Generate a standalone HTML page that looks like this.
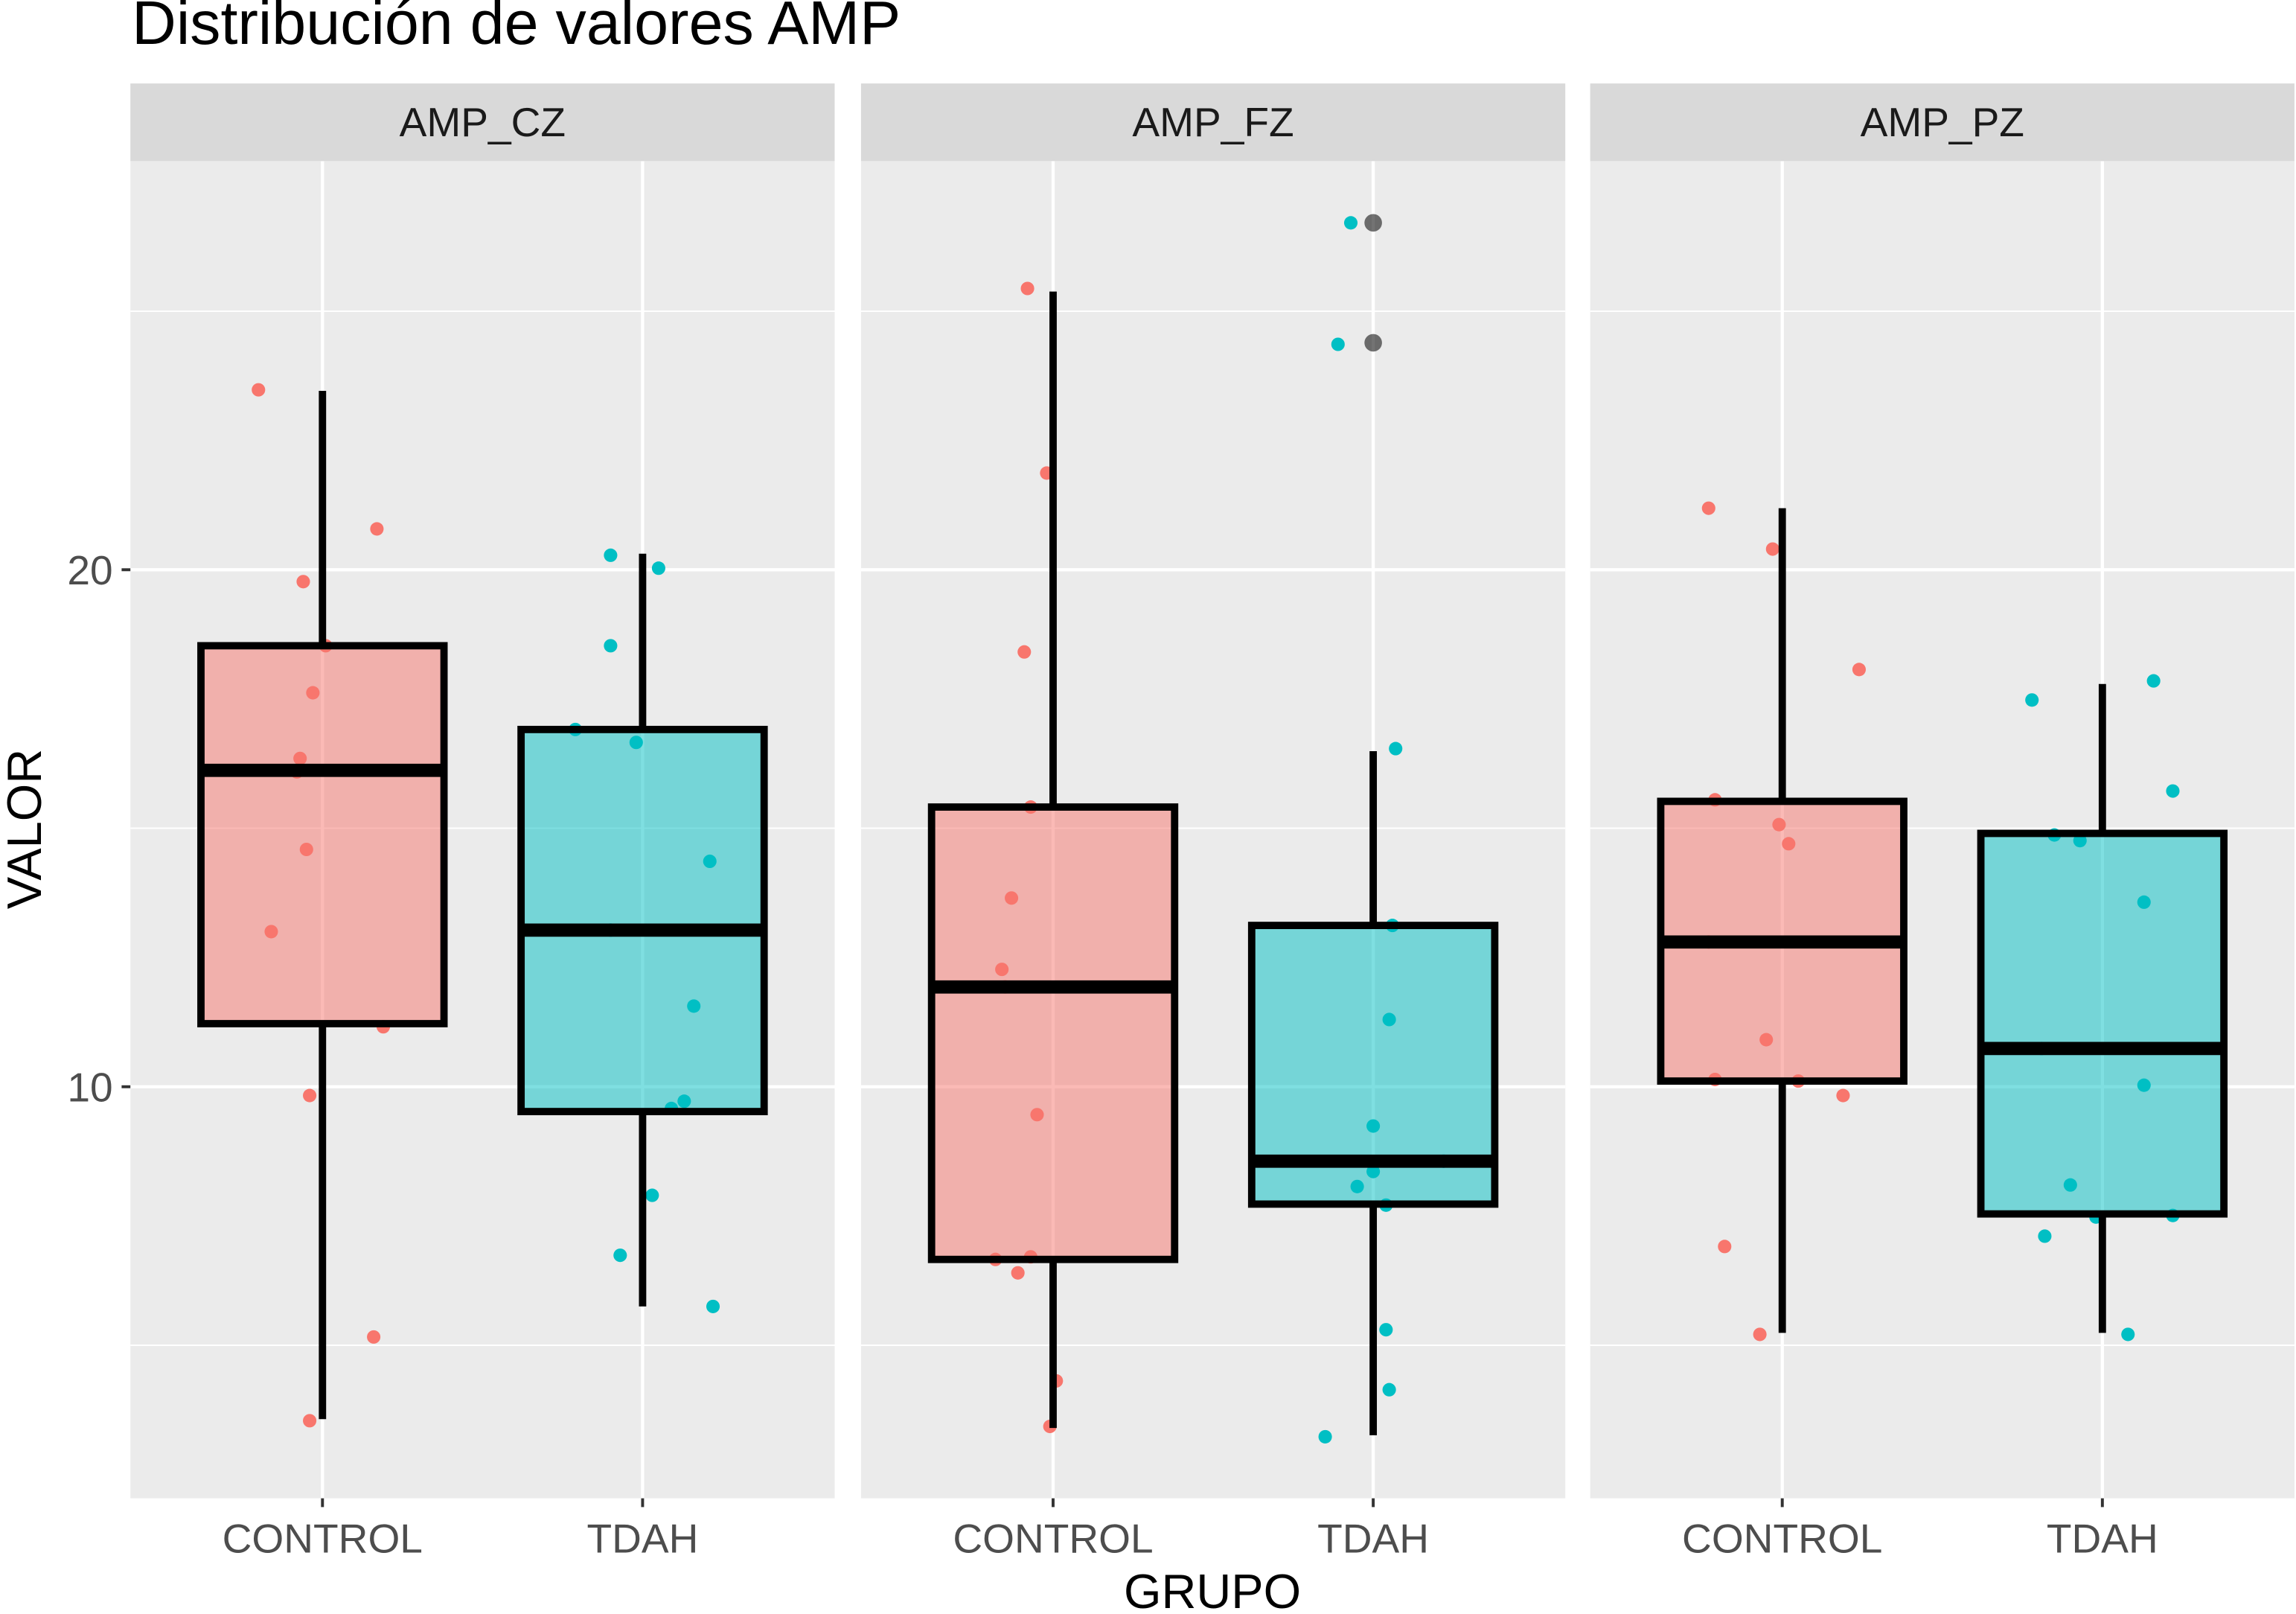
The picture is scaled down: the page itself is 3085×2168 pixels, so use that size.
<!DOCTYPE html>
<html><head><meta charset="utf-8"><style>
html,body{margin:0;padding:0;background:#fff;}
svg{display:block;font-family:"Liberation Sans",sans-serif;}
</style></head><body>
<svg id="chart" width="3085" height="2168" viewBox="0 0 1568 1102" xmlns="http://www.w3.org/2000/svg">
<rect width="1568" height="1102" fill="#fff"/>
<text x="90" y="30" font-size="42" fill="#000">Distribución de valores AMP</text>
<text x="828" y="1098" font-size="33" text-anchor="middle" fill="#000">GRUPO</text>
<text x="0" y="0" font-size="33" text-anchor="middle" fill="#000" transform="translate(28,566) rotate(-90)">VALOR</text>
<g id="plots"></g>
</svg>
<script>
const panels = ["AMP_CZ","AMP_FZ","AMP_PZ"];
const groups = ["CONTROL","TDAH"];
const yTicks = [10,20];
const yMinor = [5,15,25];
// box stats per panel per group: [lower whisker, q1, median, q3, upper whisker]
const boxCZ = [[3.57,11.22,16.12,18.53,23.46],[5.75,9.52,13.03,16.91,20.31]];
const boxFZ = [[3.40,6.66,11.93,15.41,25.38],[3.26,7.73,8.56,13.12,16.49]];
const boxPZ = [[5.24,10.11,12.80,15.52,21.19],[5.24,7.54,10.74,14.90,17.79]];
const outCZ = [[],[]];
const outFZ = [[],[26.71,24.39]];
const outPZ = [[],[]];
const valsCZ = [[23.48,20.79,19.77,18.53,17.62,16.35,16.09,14.59,13.00,11.16,9.83,5.16,3.54],[20.28,20.03,18.53,16.91,16.66,14.36,13.03,11.56,9.72,9.58,7.90,6.74,5.75]];
const jitCZ = [[-0.20,0.17,-0.06,0.01,-0.03,-0.07,-0.08,-0.05,-0.16,0.19,-0.04,0.16,-0.04],[-0.10,0.05,-0.10,-0.21,-0.02,0.21,-0.10,0.16,0.13,0.09,0.03,-0.07,0.22]];
const valsFZ = [[25.44,21.87,18.41,15.41,13.65,12.27,11.93,9.46,6.66,6.71,6.40,4.31,3.43],[26.71,24.36,16.54,13.12,11.30,9.24,8.36,8.56,8.07,7.71,5.30,4.14,3.23]];
const jitFZ = [[-0.08,-0.02,-0.09,-0.07,-0.13,-0.16,-0.15,-0.05,-0.18,-0.07,-0.11,0.01,-0.01],[-0.07,-0.11,0.07,0.06,0.05,0,0,0.22,-0.05,0.04,0.04,0.05,-0.15]];
const valsPZ = [[21.19,20.40,18.07,15.55,15.07,14.70,12.80,10.91,10.14,10.11,9.83,6.91,5.21],[17.85,17.48,15.72,14.87,14.76,13.57,10.74,10.03,8.10,7.48,7.51,7.11,5.21]];
const jitPZ = [[-0.23,-0.03,0.24,-0.21,-0.01,0.02,-0.23,-0.05,-0.21,0.05,0.19,-0.18,-0.07],[0.16,-0.22,0.22,-0.15,-0.07,0.13,-0.19,0.13,-0.10,-0.02,0.22,-0.18,0.08]];

const boxes=[boxCZ,boxFZ,boxPZ], outs=[outCZ,outFZ,outPZ], vals=[valsCZ,valsFZ,valsPZ], jits=[jitCZ,jitFZ,jitPZ];
const colors=["#F8766D","#00BFC4"];
const panelX=[89,588,1086], panelW=481, topY=110, bottomY=1023;
const unit=panelW/2.2;
function y(v){return 742-(v-10)*35.3;}
function x(p,g){return panelX[p]+(0.6+g)*unit;}
const NS="http://www.w3.org/2000/svg";
const root=document.getElementById('plots');
function mk(tag,attrs,parent){const e=document.createElementNS(NS,tag);for(const k in attrs)e.setAttribute(k,attrs[k]);(parent||root).appendChild(e);return e;}

panels.forEach((name,p)=>{
  const g=mk('g',{});
  
  
  const bg=mk('rect',{x:panelX[p],y:topY,width:panelW,height:bottomY-topY,fill:'#EBEBEB'},g);
  
  
  yMinor.forEach(v=>{const l=mk('line',{x1:panelX[p],x2:panelX[p]+panelW,y1:y(v),y2:y(v),stroke:'#fff','stroke-width':1},g);
    
    });
  yTicks.forEach(v=>{const l=mk('line',{x1:panelX[p],x2:panelX[p]+panelW,y1:y(v),y2:y(v),stroke:'#fff','stroke-width':2.2},g);
    
    });
  groups.forEach((gr,gi)=>{const l=mk('line',{x1:x(p,gi),x2:x(p,gi),y1:topY,y2:bottomY,stroke:'#fff','stroke-width':2.2},g);
    
    
    const t=mk('text',{x:x(p,gi),y:1060,'font-size':28,'text-anchor':'middle',fill:'#4D4D4D'},g);
    t.textContent=gr;
    
    
    mk('line',{x1:x(p,gi),x2:x(p,gi),y1:bottomY,y2:bottomY+6,stroke:'#333','stroke-width':2},g);
  });
  const s=mk('rect',{x:panelX[p],y:57,width:panelW,height:53,fill:'#D9D9D9'},g);
  
  
  const st=mk('text',{x:panelX[p]+panelW/2,y:93,'font-size':28,'text-anchor':'middle',fill:'#1A1A1A'},g);
  st.textContent=name;
  
  
  groups.forEach((gr,gi)=>{
    vals[p][gi].forEach((v,i)=>{
      const c=mk('circle',{cx:x(p,gi)+jits[p][gi][i]*unit,cy:y(v),r:4.6,fill:colors[gi]},g);
      
      
    });
  });
  groups.forEach((gr,gi)=>{
    const b=boxes[p][gi], cx=x(p,gi), hw=83;
    const w1=mk('line',{x1:cx,x2:cx,y1:y(b[0]),y2:y(b[1]),stroke:'#000','stroke-width':5},g);
    
    
    const w2=mk('line',{x1:cx,x2:cx,y1:y(b[3]),y2:y(b[4]),stroke:'#000','stroke-width':5},g);
    
    
    const r=mk('rect',{x:cx-hw,y:y(b[3]),width:2*hw,height:y(b[1])-y(b[3]),fill:colors[gi],'fill-opacity':0.5,stroke:'#000','stroke-width':5},g);
    
    
    const m=mk('line',{x1:cx-hw,x2:cx+hw,y1:y(b[2]),y2:y(b[2]),stroke:'#000','stroke-width':9},g);
    
    
    outs[p][gi].forEach(v=>{
      const o=mk('circle',{cx:cx,cy:y(v),r:6,fill:'#000','fill-opacity':0.55},g);
      
      
    });
  });
});
yTicks.forEach(v=>{
  const t=mk('text',{x:77,y:y(v)+10,'font-size':28,'text-anchor':'end',fill:'#4D4D4D'});
  t.textContent=v;
  
  
  mk('line',{x1:83,x2:89,y1:y(v),y2:y(v),stroke:'#333','stroke-width':2});
});
</script>
</body></html>
